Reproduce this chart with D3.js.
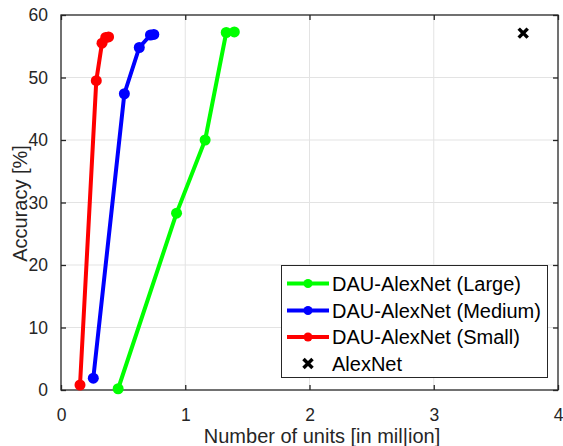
<!DOCTYPE html>
<html><head><meta charset="utf-8">
<script src="https://cdn.jsdelivr.net/npm/d3@7"></script>
<style>body{margin:0;background:#fff;} svg{display:block;}</style>
</head><body>
<svg id="c" width="563" height="446"></svg>
<script>
const seriesNames = ["DAU-AlexNet (Large)", "DAU-AlexNet (Medium)", "DAU-AlexNet (Small)"];
const seriesColors = ["#00ff00", "#0000ff", "#ff0000"];
const largeX = [0.46, 0.93, 1.16, 1.33, 1.395];
const largeY = [0.2, 28.3, 40.0, 57.2, 57.3];
const mediumX = [0.26, 0.51, 0.63, 0.72, 0.747];
const mediumY = [1.9, 47.4, 54.8, 56.8, 56.9];
const smallX = [0.153, 0.284, 0.33, 0.36, 0.383];
const smallY = [0.8, 49.5, 55.5, 56.4, 56.5];
const alexnetName = "AlexNet";
const alexnetX = [3.72];
const alexnetY = [57.1];
const xTicks = [0, 1, 2, 3, 4];
const yTicks = [0, 10, 20, 30, 40, 50, 60];
const xLabel = "Number of units [in mil|ion]";
const yLabel = "Accuracy [%]";

const svg = d3.select("#c");
const L = 61, R = 558, T = 15, B = 390;
const x = d3.scaleLinear().domain([0, 4]).range([L, R]);
const y = d3.scaleLinear().domain([0, 60]).range([B, T]);
const axisCol = "#262626";
const font = "Arial, 'Liberation Sans', Helvetica, sans-serif";
const labelSize = "20px";

// grid
const g = svg.append("g");
g.selectAll(".gx").data(xTicks.slice(1, -1)).join("line")
  .attr("x1", d => x(d)).attr("x2", d => x(d)).attr("y1", T).attr("y2", B)
  .attr("stroke", "#e3e3e3").attr("stroke-width", 1);
g.selectAll(".gy").data(yTicks.slice(1, -1)).join("line")
  .attr("y1", d => y(d)).attr("y2", d => y(d)).attr("x1", L).attr("x2", R)
  .attr("stroke", "#e3e3e3").attr("stroke-width", 1);

// axes (ticks inward)
const tl = 5;
const xb = d3.axisBottom(x).tickValues(xTicks).tickSize(-tl).tickPadding(tl + 13.5).tickFormat(d3.format("d"));
const xt = d3.axisTop(x).tickValues(xTicks).tickSize(-tl).tickFormat("");
const yl = d3.axisLeft(y).tickValues(yTicks).tickSize(-tl).tickPadding(tl + 8).tickFormat(d3.format("d"));
const yr = d3.axisRight(y).tickValues(yTicks).tickSize(-tl).tickFormat("");
function styleAxis(sel) {
  sel.select(".domain").attr("stroke", axisCol).attr("stroke-width", 1.3);
  sel.selectAll(".tick line").attr("stroke", axisCol).attr("stroke-width", 1.3);
  sel.selectAll(".tick text").attr("fill", axisCol).style("font-family", font).style("font-size", "17.5px");
}
svg.append("g").attr("transform", `translate(0,${B})`).call(xb).call(styleAxis);
svg.append("g").attr("transform", `translate(0,${T})`).call(xt).call(styleAxis);
svg.append("g").attr("transform", `translate(${L},0)`).call(yl).call(styleAxis);
svg.append("g").attr("transform", `translate(${R},0)`).call(yr).call(styleAxis);
svg.selectAll(".domain").attr("d", null);
svg.append("rect").attr("x", L).attr("y", T).attr("width", R - L).attr("height", B - T)
  .attr("fill", "none").attr("stroke", axisCol).attr("stroke-width", 1.3);

// labels
svg.append("text").attr("x", 322).attr("y", 443).attr("text-anchor", "middle")
  .attr("fill", axisCol).style("font-family", font).style("font-size", labelSize).text(xLabel);
svg.append("text").attr("transform", `translate(27,${(T + B) / 2 + 1}) rotate(-90)`).attr("text-anchor", "middle")
  .attr("fill", axisCol).style("font-family", font).style("font-size", labelSize).text(yLabel);

// series
const allX = [largeX, mediumX, smallX];
const allY = [largeY, mediumY, smallY];
const line = d3.line().x(d => x(d[0])).y(d => y(d[1]));
allX.forEach((xs, i) => {
  const pts = xs.map((v, j) => [v, allY[i][j]]);
  const col = seriesColors[i];
  svg.append("path").datum(pts).attr("d", line).attr("fill", "none")
    .attr("stroke", col).attr("stroke-width", 4).attr("stroke-linejoin", "round");
  svg.selectAll(null).data(pts).join("circle")
    .attr("cx", d => x(d[0])).attr("cy", d => y(d[1])).attr("r", 5.5).attr("fill", col);
});

// AlexNet cross
function cross(sel, cx, cy, s, w) {
  sel.append("path").attr("d", `M${cx - s},${cy - s}L${cx + s},${cy + s}M${cx - s},${cy + s}L${cx + s},${cy - s}`)
    .attr("stroke", "#000").attr("stroke-width", w).attr("fill", "none");
}
alexnetX.forEach((v, j) => cross(svg, x(v), y(alexnetY[j]), 4.5, 3.5));

// legend
const lg = svg.append("g");
lg.append("rect").attr("x", 281.5).attr("y", 265.5).attr("width", 266).attr("height", 112)
  .attr("fill", "#fff").attr("stroke", axisCol).attr("stroke-width", 1);
const rowsY = [283.5, 310.5, 337, 363.5];
seriesNames.forEach((n, i) => {
  const ry = rowsY[i];
  lg.append("line").attr("x1", 287).attr("x2", 329).attr("y1", ry).attr("y2", ry)
    .attr("stroke", seriesColors[i]).attr("stroke-width", 4);
  lg.append("circle").attr("cx", 308).attr("cy", ry).attr("r", 4.5).attr("fill", seriesColors[i]);
  lg.append("text").attr("x", 332).attr("y", ry + 7).attr("fill", "#000")
    .style("font-family", font).style("font-size", labelSize).text(n);
});
cross(lg, 308, rowsY[3], 4.5, 3.5);
lg.append("text").attr("x", 332).attr("y", rowsY[3] + 7).attr("fill", "#000")
  .style("font-family", font).style("font-size", labelSize).text(alexnetName);
</script>
</body></html>
